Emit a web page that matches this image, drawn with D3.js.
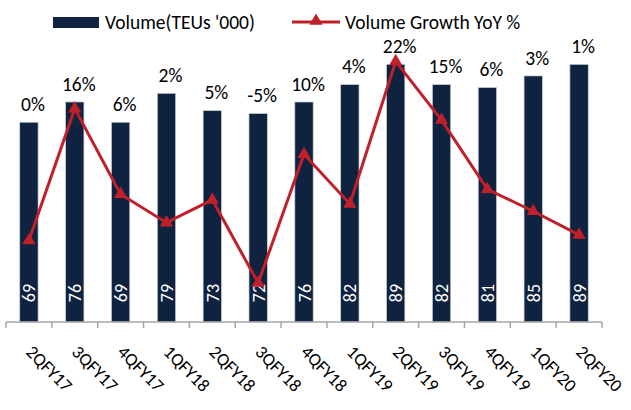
<!DOCTYPE html>
<html>
<head>
<meta charset="utf-8">
<script src="https://cdn.jsdelivr.net/npm/d3@7"></script>
<style>
  html, body { margin: 0; padding: 0; background: #fff; }
  svg { display: block; font-family: Carlito, Lato, sans-serif; }
</style>
</head>
<body>
<svg id="chart"></svg>
<script>
// ─── Volume vs growth combo chart ─────────────────────────────

const quarters = ["2QFY17", "3QFY17", "4QFY17", "1QFY18", "2QFY18", "3QFY18", "4QFY18",
                  "1QFY19", "2QFY19", "3QFY19", "4QFY19", "1QFY20", "2QFY20"];
const volume = [69, 76, 69, 79, 73, 72, 76, 82, 89, 82, 81, 85, 89];
const growth = [0.0, 16.2, 5.7, 2.2, 5.0, -5.2, 10.6, 4.5, 22.0, 14.8, 6.3, 3.6, 0.7];
const growthLabels = ["0%", "16%", "6%", "2%", "5%", "-5%", "10%", "4%", "22%", "15%", "6%", "3%", "1%"];

const BAR_COLOR = "#0f2340";
const LINE_COLOR = "#c0202a";
const AXIS_COLOR = "#a6a6a6";

const width = 631, height = 410;
const axisY = 322;

const svg = d3.select("#chart").attr("width", width).attr("height", height);

const x = d3.scaleBand()
  .domain(quarters)
  .range([6, 602])
  .paddingInner(0.6)
  .paddingOuter(0.3);

const yBar = d3.scaleLinear().domain([0, 100]).range([axisY, 32.5]);
const yPct = d3.scaleLinear().domain([-10, 25]).range([axisY, 37]);

const step = x.step();
const gap = (step - x.bandwidth()) / 2;
const cx = d => x(d) + x.bandwidth() / 2;

// Bars
svg.append("g")
  .selectAll("rect")
  .data(quarters)
  .join("rect")
  .attr("x", d => x(d))
  .attr("y", (d, i) => yBar(volume[i]))
  .attr("width", x.bandwidth())
  .attr("height", (d, i) => axisY - yBar(volume[i]))
  .attr("fill", BAR_COLOR)
  .attr("stroke", "#c9ced6")
  .attr("stroke-width", 0.7);

// Value labels inside bars (rotated)
svg.append("g")
  .selectAll("text")
  .data(quarters)
  .join("text")
  .attr("transform", d => `translate(${cx(d) + 6.5},${axisY - 29}) rotate(-90)`)
  .attr("text-anchor", "middle")
  .attr("fill", "#ffffff")
  .attr("font-size", "18px")
  .text((d, i) => volume[i]);

// X axis line + ticks at category boundaries
const axis = svg.append("g");
axis.append("line")
  .attr("x1", x.range()[0]).attr("x2", x.range()[1])
  .attr("y1", axisY).attr("y2", axisY)
  .attr("stroke", AXIS_COLOR).attr("stroke-width", 1.5);

const tickXs = quarters.map(d => x(d) - gap).concat([x(quarters[quarters.length - 1]) + x.bandwidth() + gap]);
axis.selectAll("line.tick")
  .data(tickXs)
  .join("line")
  .attr("class", "tick")
  .attr("x1", d => d).attr("x2", d => d)
  .attr("y1", axisY).attr("y2", axisY + 6)
  .attr("stroke", AXIS_COLOR).attr("stroke-width", 1.5);

// Category labels, rotated 45 degrees
axis.selectAll("text")
  .data(quarters)
  .join("text")
  .attr("transform", d => `translate(${cx(d) - 4},${axisY + 31}) rotate(45)`)
  .attr("text-anchor", "start")
  .attr("fill", "#000")
  .attr("font-size", "18px")
  .text(d => d);

// Growth line
const line = d3.line()
  .x((d, i) => cx(quarters[i]))
  .y(d => yPct(d));

svg.append("path")
  .datum(growth)
  .attr("d", line)
  .attr("fill", "none")
  .attr("stroke", LINE_COLOR)
  .attr("stroke-width", 3)
  .attr("stroke-linejoin", "miter");

const tri = d3.symbol().type(d3.symbolTriangle).size(75);
svg.append("g")
  .selectAll("path")
  .data(growth)
  .join("path")
  .attr("d", tri)
  .attr("transform", (d, i) => `translate(${cx(quarters[i])},${yPct(d)})`)
  .attr("fill", LINE_COLOR);

// Growth % labels above the bars
svg.append("g")
  .selectAll("text")
  .data(quarters)
  .join("text")
  .attr("x", d => cx(d) + 4)
  .attr("y", (d, i) => yBar(volume[i]) - 18)
  .attr("dy", "0.35em")
  .attr("text-anchor", "middle")
  .attr("fill", "#000")
  .attr("font-size", "19.5px")
  .text((d, i) => growthLabels[i]);

// Legend
const legend = svg.append("g").attr("font-size", "19.5px");
legend.append("rect")
  .attr("x", 53).attr("y", 17).attr("width", 46).attr("height", 11)
  .attr("fill", BAR_COLOR);
legend.append("text")
  .attr("x", 105).attr("y", 22).attr("dy", "0.35em")
  .text("Volume(TEUs '000)");
legend.append("line")
  .attr("x1", 292).attr("x2", 340).attr("y1", 22).attr("y2", 22)
  .attr("stroke", LINE_COLOR).attr("stroke-width", 3);
legend.append("path")
  .attr("d", tri)
  .attr("transform", "translate(316,21)")
  .attr("fill", LINE_COLOR);
legend.append("text")
  .attr("x", 345).attr("y", 22).attr("dy", "0.35em")
  .text("Volume Growth YoY %");
</script>
</body>
</html>
